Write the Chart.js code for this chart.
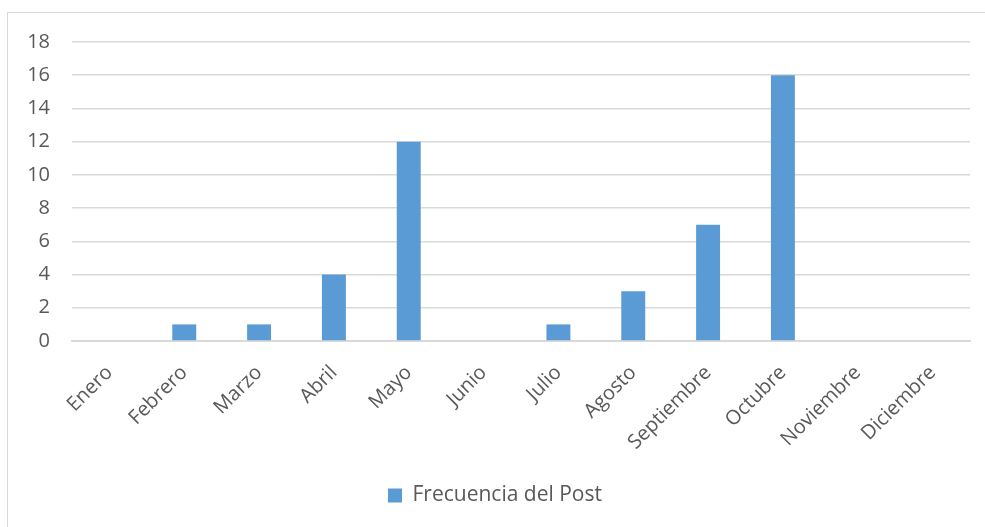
<!DOCTYPE html>
<html>
<head>
<meta charset="utf-8">
<script src="https://cdn.jsdelivr.net/npm/chart.js@4.4.0/dist/chart.umd.min.js"></script>
<style>
  html, body { margin: 0; padding: 0; background: #fff; }
  #wrap { position: relative; width: 985px; height: 527px; overflow: hidden; }
  #frame { position: absolute; left: 7px; top: 12px; width: 1000px; height: 540px; border: 1px solid #d9d9d9; }
  #myChart { position: absolute; left: 0; top: 0; }
</style>
</head>
<body>
<div id="wrap">
  <div id="frame"></div>
  <canvas id="myChart" width="985" height="527"></canvas>
</div>
<script>
const months = ["Enero", "Febrero", "Marzo", "Abril", "Mayo", "Junio", "Julio", "Agosto", "Septiembre", "Octubre", "Noviembre", "Diciembre"];
const frecuencia = [0, 1, 1, 4, 12, 0, 1, 3, 7, 16, 0, 0];
const yTicks = [0, 2, 4, 6, 8, 10, 12, 14, 16, 18];

window.onload = () => {
    const ctx = document.getElementById('myChart').getContext("2d");
    const font = "'Open Sans', 'Noto Sans', sans-serif";
    const data = {
        labels: months,
        datasets: [
            {
                label: "Frecuencia del Post",
                data: frecuencia,
                backgroundColor: "#5b9bd5",
                borderWidth: 0,
                categoryPercentage: 1,
                barPercentage: 0.32
            }
        ]
    };

    new Chart(ctx, {
        type: "bar",
        data,
        options: {
            responsive: false,
            animation: false,
            layout: { padding: { top: 42, right: 15, bottom: 11, left: 20 } },
            plugins: {
                legend: {
                    position: "bottom",
                    labels: {
                        color: "#595959",
                        font: { family: font, size: 21 },
                        boxWidth: 14,
                        boxHeight: 14,
                        padding: 10
                    }
                },
                tooltip: { enabled: false }
            },
            scales: {
                x: {
                    grid: { display: false },
                    border: { color: "#d9d9d9", width: 2 },
                    ticks: {
                        color: "#595959",
                        font: { family: font, size: 20 },
                        minRotation: 45,
                        maxRotation: 45,
                        padding: 12
                    },
                    afterFit: s => { s.height = 134; }
                },
                y: {
                    min: 0,
                    max: 18,
                    afterBuildTicks: s => { s.ticks = yTicks.map(v => ({ value: v })); },
                    grid: { color: "#d9d9d9", lineWidth: 1.5, drawTicks: false },
                    border: { display: false },
                    ticks: {
                        color: "#595959",
                        font: { family: font, size: 20 },
                        padding: 22
                    },
                    afterFit: s => { s.width = 52; }
                }
            }
        }
    });
};
</script>
</body>
</html>
